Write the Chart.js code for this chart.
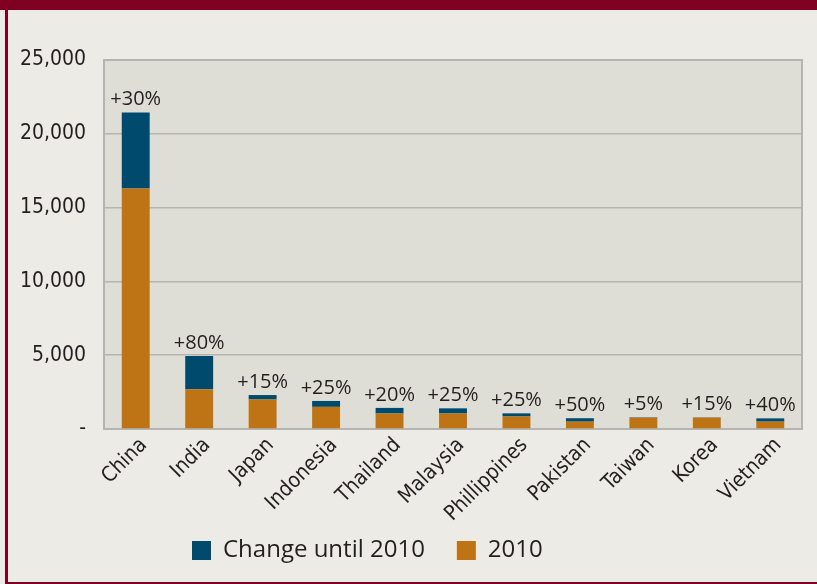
<!DOCTYPE html>
<html>
<head>
<meta charset="utf-8">
<script src="https://cdn.jsdelivr.net/npm/chart.js@4.4.1/dist/chart.umd.min.js"></script>
<style>
html, body { margin: 0; padding: 0; background: #ecebe6; }
#wrap { width: 817px; height: 584px; }
</style>
</head>
<body>
<div id="wrap"><canvas id="growthChart" width="817" height="584"></canvas></div>
<script>
var countries = ["China", "India", "Japan", "Indonesia", "Thailand", "Malaysia",
    "Phillippines", "Pakistan", "Taiwan", "Korea", "Vietnam"];
var values2010 = [16300, 2700, 2000, 1500, 1050, 1050, 850, 500, 760, 770, 500];
var changeUntil2010 = [5150, 2250, 300, 400, 380, 350, 210, 230, 30, 20, 220];
var growthText = ["+30%", "+80%", "+15%", "+25%", "+20%", "+25%", "+25%", "+50%", "+5%", "+15%", "+40%"];
var yMax = 25000;
var yStep = 5000;

var textColor = "#231f20";

// background, red frame and plot panel
var framePlugin = {
    id: "frame",
    beforeDraw: function (chart) {
        var ctx = chart.ctx;
        var a = chart.chartArea;
        ctx.save();
        ctx.fillStyle = "#ecebe6";
        ctx.fillRect(0, 0, chart.width, chart.height);
        ctx.fillStyle = "#800022";
        ctx.fillRect(0, 0, chart.width, 10);
        ctx.fillRect(5, 0, 3, chart.height);
        ctx.fillRect(5, chart.height - 2, chart.width - 5, 2);
        ctx.fillStyle = "#dfded6";
        ctx.fillRect(a.left, a.top, a.right - a.left, a.bottom - a.top);
        ctx.restore();
    },
    beforeDatasetsDraw: function (chart) {
        var ctx = chart.ctx;
        var a = chart.chartArea;
        ctx.save();
        ctx.strokeStyle = "#b5b4b0";
        ctx.lineWidth = 2;
        ctx.strokeRect(a.left, a.top, a.right - a.left, a.bottom - a.top);
        ctx.restore();
    },
    afterLayout: function (chart) {
        // legend sits left of centre in the original
        var lg = chart.legend;
        lg.left = 160;
        lg.right = chart.width;
        lg.top = 506.5;
        lg.bottom = chart.height;
        // don't clip the long rotated names
        chart.scales.x.bottom = chart.height;
    },
};

// growth percentage above each stack
var growthPlugin = {
    id: "growth",
    afterDatasetsDraw: function (chart) {
        var ctx = chart.ctx;
        var meta = chart.getDatasetMeta(1);
        ctx.save();
        ctx.font = "20px 'Open Sans'";
        ctx.fillStyle = textColor;
        ctx.textAlign = "center";
        ctx.textBaseline = "alphabetic";
        meta.data.forEach(function (bar, i) {
            ctx.fillText(growthText[i], bar.x, bar.y - 7);
        });
        ctx.restore();
    },
};

var ctx = document.getElementById("growthChart").getContext("2d");

var growthChart = new Chart(ctx, {
    type: "bar",
    data: {
        labels: countries,
        datasets: [
            {
                label: "2010",
                data: values2010,
                backgroundColor: "#be7314",
                borderWidth: 0,
            },
            {
                label: "Change until 2010",
                data: changeUntil2010,
                backgroundColor: "#004a6e",
                borderWidth: 0,
            },
        ],
    },
    options: {
        responsive: false,
        devicePixelRatio: 1,
        animation: false,
        layout: {
            padding: { left: 6, right: 15, top: 60, bottom: 0 },
        },
        datasets: {
            bar: {
                categoryPercentage: 1,
                barPercentage: 0.44,
            },
        },
        scales: {
            x: {
                stacked: true,
                grid: { display: false, drawTicks: false },
                border: { display: false },
                ticks: {
                    autoSkip: false,
                    minRotation: 45,
                    maxRotation: 45,
                    padding: 4,
                    labelOffset: 8,
                    color: textColor,
                    font: { family: "'DejaVu Sans Condensed'", size: 21 },
                },
                afterFit: function (scale) {
                    scale.height = 89;
                },
            },
            y: {
                stacked: true,
                min: 0,
                max: yMax,
                grid: { color: "#b5b4b0", lineWidth: 1.5, drawTicks: false },
                border: { display: false },
                ticks: {
                    stepSize: yStep,
                    padding: 18,
                    color: textColor,
                    font: { family: "'DejaVu Sans Condensed'", size: 21 },
                    callback: function (v) {
                        return v === 0 ? "-" : v.toLocaleString("en-US");
                    },
                },
                afterFit: function (scale) {
                    scale.width = 98;
                },
            },
        },
        plugins: {
            legend: {
                position: "bottom",
                align: "start",
                reverse: true,
                labels: {
                    boxWidth: 19,
                    boxHeight: 19,
                    padding: 32,
                    color: textColor,
                    font: { family: "'Open Sans'", size: 24 },
                },
            },
            tooltip: { enabled: false },
        },
    },
    plugins: [framePlugin, growthPlugin],
});
</script>
</body>
</html>
